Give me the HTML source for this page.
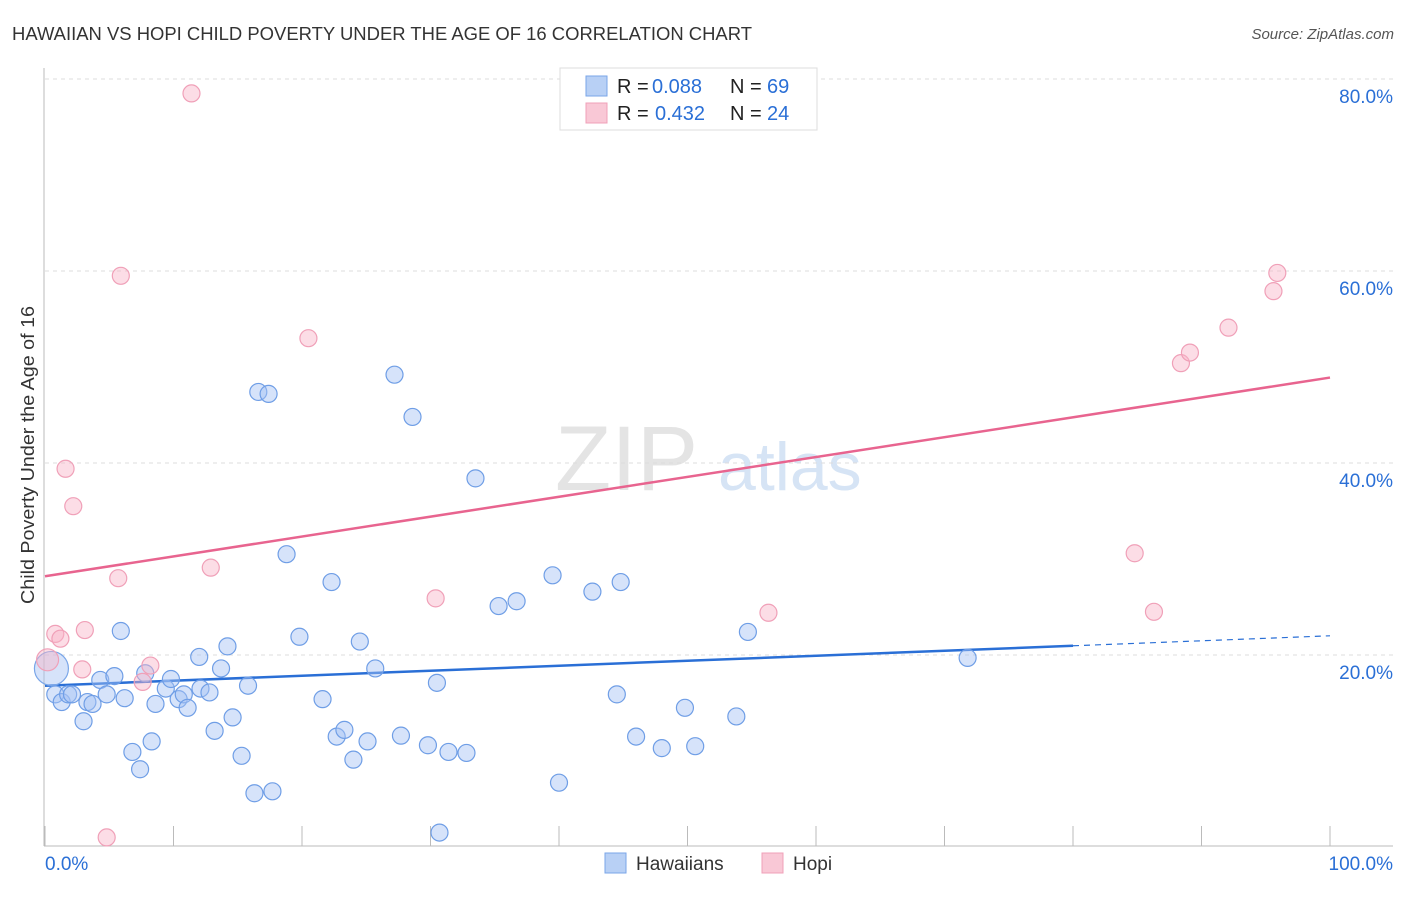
<!DOCTYPE html>
<html><head><meta charset="utf-8"><style>
body{margin:0;background:#fff;font-family:"Liberation Sans",sans-serif}
svg text{font-family:"Liberation Sans",sans-serif}
</style></head><body>
<svg id="chart" width="1406" height="892" viewBox="0 0 1406 892" xmlns="http://www.w3.org/2000/svg">
<text x="12" y="40" font-size="18" fill="#333" textLength="740" lengthAdjust="spacingAndGlyphs">HAWAIIAN VS HOPI CHILD POVERTY UNDER THE AGE OF 16 CORRELATION CHART</text>
<text x="1394" y="39" font-size="15" fill="#555" text-anchor="end" font-style="italic">Source: ZipAtlas.com</text>
<text x="34" y="455" font-size="18" fill="#333" text-anchor="middle" textLength="298" lengthAdjust="spacingAndGlyphs" transform="rotate(-90 34 455)">Child Poverty Under the Age of 16</text>
<g><text x="555" y="490" font-size="92" fill="#e4e4e4" font-family="Liberation Serif,serif">ZIP</text><text x="718" y="490" font-size="68" fill="#d6e4f5">atlas</text></g>
<g id="grid"></g><g id="axes"></g><g id="trends"></g><g id="pts"></g>
<g>
<rect x="560" y="68" width="257" height="62" fill="#fff" stroke="#ddd"/>
<rect x="586" y="76" width="21" height="20" fill="#b8d0f5" stroke="#7aa6e8"/>
<rect x="586" y="103" width="21" height="20" fill="#f9c8d6" stroke="#f0a0b8"/>
<text x="617" y="93" font-size="20" fill="#222">R =</text><text x="652" y="93" font-size="20" fill="#2a6fd6">0.088</text>
<text x="730" y="93" font-size="20" fill="#222">N =</text><text x="767" y="93" font-size="20" fill="#2a6fd6">69</text>
<text x="617" y="120" font-size="20" fill="#222">R =</text><text x="655" y="120" font-size="20" fill="#2a6fd6">0.432</text>
<text x="730" y="120" font-size="20" fill="#222">N =</text><text x="767" y="120" font-size="20" fill="#2a6fd6">24</text>
</g>
<g>
<rect x="605" y="853" width="21" height="20" fill="#b8d0f5" stroke="#7aa6e8"/>
<text x="636" y="870" font-size="19" fill="#333">Hawaiians</text>
<rect x="762" y="853" width="21" height="20" fill="#f9c8d6" stroke="#f0a0b8"/>
<text x="793" y="870" font-size="19" fill="#333">Hopi</text>
</g>
</svg>
<script>
const blueX=[0.8,1.3,1.8,2.1,3.0,3.3,3.7,4.3,4.8,5.4,5.9,6.2,6.8,7.4,7.8,8.3,8.6,9.4,9.8,10.4,10.8,11.1,12.0,12.1,12.8,13.2,13.7,14.2,14.6,15.3,15.8,16.3,16.6,17.4,17.7,18.8,19.8,21.6,22.3,22.7,23.3,24.0,24.5,25.1,25.7,27.2,27.7,28.6,29.8,30.5,30.7,31.4,32.8,33.5,35.3,36.7,39.5,40.0,42.6,44.5,44.8,46.0,48.0,49.8,50.6,53.8,54.7,71.8];
const blueY=[15.9,15.1,15.9,15.9,13.1,15.1,14.9,17.4,15.9,17.8,22.5,15.5,9.9,8.1,18.1,11.0,14.9,16.5,17.5,15.4,15.9,14.5,19.8,16.5,16.1,12.1,18.6,20.9,13.5,9.5,16.8,5.6,47.4,47.2,5.8,30.5,21.9,15.4,27.6,11.5,12.2,9.1,21.4,11.0,18.6,49.2,11.6,44.8,10.6,17.1,1.5,9.9,9.8,38.4,25.1,25.6,28.3,6.7,26.6,15.9,27.6,11.5,10.3,14.5,10.5,13.6,22.4,19.7];
const pinkX=[0.8,1.2,1.6,2.2,2.9,3.1,4.8,5.7,5.9,7.6,8.2,11.4,12.9,20.5,30.4,56.3,84.8,86.3,88.4,89.1,92.1,95.6,95.9];
const pinkY=[22.2,21.7,39.4,35.5,18.5,22.6,1.0,28.0,59.5,17.2,18.9,78.5,29.1,53.0,25.9,24.4,30.6,24.5,50.4,51.5,54.1,57.9,59.8];
const bigBlue=[0.5,18.6];const bigPink=[0.2,19.5];
const blueTrend=[16.8,22.0];const pinkTrend=[28.2,48.9];
const yTicks=[20,40,60,80];
const xTickVals=[0,10,20,30,40,50,60,70,80,90,100];
const NS="http://www.w3.org/2000/svg";
const sx=v=>45+v*12.85, sy=v=>847-v*9.6;
function mk(tag,attrs,parent){const e=document.createElementNS(NS,tag);for(const k in attrs)e.setAttribute(k,attrs[k]);document.getElementById(parent).appendChild(e);return e;}
yTicks.forEach(t=>{
 const l=mk('line',{x1:45,x2:1393,y1:sy(t),y2:sy(t),stroke:'#ddd','stroke-dasharray':'4,4'},'grid');
 
 
 const tx=mk('text',{x:1393,y:sy(t)+24,'font-size':19,fill:'#2a6fd6','text-anchor':'end'},'grid');tx.textContent=t.toFixed(1)+'%';
 
 
});
let a=mk('line',{x1:44,x2:44,y1:68,y2:846,stroke:'#bbb'},'axes');


a=mk('line',{x1:44,x2:1393,y1:846,y2:846,stroke:'#bbb'},'axes');


xTickVals.forEach(t=>{const l=mk('line',{x1:sx(t),x2:sx(t),y1:826,y2:846,stroke:'#bbb'},'axes');
 
 });
let t0=mk('text',{x:45,y:870,'font-size':19,fill:'#2a6fd6'},'axes');t0.textContent='0.0%';


t0=mk('text',{x:1393,y:870,'font-size':19,fill:'#2a6fd6','text-anchor':'end'},'axes');t0.textContent='100.0%';


function pt(x,y,r,fill,stroke,name){const c=mk('circle',{cx:sx(x),cy:sy(y),r:r,fill:fill,stroke:stroke,'stroke-width':1.2},'pts');
 
 }
pt(bigBlue[0],bigBlue[1],17,'rgba(164,194,244,0.45)','#7aa6e8','hawaiians-point');
blueX.forEach((x,i)=>pt(x,blueY[i],8.5,'rgba(164,194,244,0.45)','#6f9ee6','hawaiians-point'));
pt(bigPink[0],bigPink[1],11,'rgba(248,180,200,0.45)','#f0a0b8','hopi-point');
pinkX.forEach((x,i)=>pt(x,pinkY[i],8.5,'rgba(248,180,200,0.45)','#f0a0b8','hopi-point'));
const bMid=blueTrend[0]+(blueTrend[1]-blueTrend[0])*0.8;
let tl=mk('line',{x1:sx(0),y1:sy(blueTrend[0]),x2:sx(80),y2:sy(bMid),stroke:'#2a6fd6','stroke-width':2.5},'trends');


tl=mk('line',{x1:sx(80),y1:sy(bMid),x2:sx(100),y2:sy(blueTrend[1]),stroke:'#2a6fd6','stroke-width':1.2,'stroke-dasharray':'6,5'},'trends');


tl=mk('line',{x1:sx(0),y1:sy(pinkTrend[0]),x2:sx(100),y2:sy(pinkTrend[1]),stroke:'#e8648f','stroke-width':2.5},'trends');


</script>
</body></html>
